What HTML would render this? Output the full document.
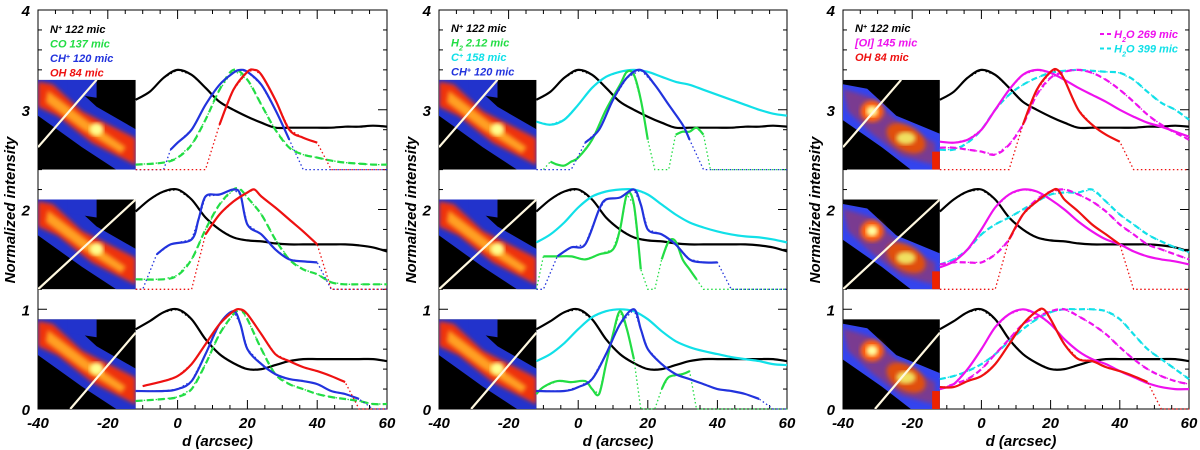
<!DOCTYPE html>
<html><head><meta charset="utf-8">
<style>
html,body{margin:0;padding:0;background:#fff;}
svg{display:block;font-family:"Liberation Sans",sans-serif;}
.tk{font-size:15px;font-weight:bold;font-style:italic;fill:#000;}
.lg{font-size:11px;font-weight:bold;font-style:italic;}
</style></head>
<body>
<svg id="fig" width="1200" height="450" viewBox="0 0 1200 450">
<defs>
<filter id="bl" x="-10%" y="-10%" width="120%" height="120%"><feGaussianBlur stdDeviation="2.2"/></filter>
</defs>
</svg>
<script>
// ---- data ----
const xTicks = [-40,-20,0,20,40,60];
const yTicks = [0,1,2,3,4];
const rowOffsets = [2.4,1.2,0];
// Panel 1
const p1r1_blackX=[-12,-8,-4,0,4,8,12,16,20,24,28,32,36,40,44,48,52,56,60];
const p1r1_blackY=[0.7,0.78,0.92,1.0,0.95,0.82,0.68,0.6,0.53,0.47,0.42,0.42,0.42,0.42,0.42,0.43,0.43,0.44,0.43];
const p1r1_greenX=[-12,-4,0,4,8,12,16,20,24,28,32,36,40,44,48,52,56,60];
const p1r1_greenY=[0.05,0.07,0.12,0.25,0.5,0.8,1.0,0.9,0.65,0.4,0.22,0.15,0.12,0.09,0.07,0.06,0.05,0.05];
const p1r1_blueX=[-12,-4,-2,0,4,8,12,16,18,20,24,28,32,36,60];
const p1r1_blueY=[0,0,0.2,0.27,0.4,0.65,0.85,0.97,1.0,0.98,0.85,0.6,0.3,0,0];
const p1r1_redX=[-12,8,12,16,20,22,24,28,32,36,40,44,60];
const p1r1_redY=[0,0,0.45,0.8,0.98,1.0,0.95,0.7,0.4,0.32,0.27,0,0];
const p1r2_blackX=[-12,-8,-4,0,4,8,12,16,20,24,28,32,36,40,44,48,52,56,60];
const p1r2_blackY=[0.78,0.9,0.98,1.0,0.9,0.72,0.6,0.52,0.49,0.48,0.46,0.45,0.45,0.45,0.45,0.45,0.44,0.42,0.38];
const p1r2_greenX=[-12,-4,0,4,8,12,16,18,20,24,28,32,36,40,44,48,52,60];
const p1r2_greenY=[0.1,0.1,0.14,0.3,0.6,0.85,1.0,1.0,0.92,0.75,0.5,0.3,0.2,0.15,0.07,0.05,0.05,0.05];
const p1r2_blueX=[-12,-10,-6,-2,4,6,8,12,16,18,20,24,28,32,36,40,44,60];
const p1r2_blueY=[0,0,0.35,0.45,0.5,0.7,0.93,0.95,1.0,0.95,0.65,0.55,0.4,0.3,0.28,0.27,0,0];
const p1r2_redX=[-12,4,8,12,16,20,22,24,28,32,36,40,44,60];
const p1r2_redY=[0,0,0.55,0.75,0.88,0.97,1.0,0.93,0.82,0.7,0.58,0.45,0,0];
const p1r3_blackX=[-12,-8,-4,0,4,8,12,16,20,24,28,32,36,40,44,48,52,56,60];
const p1r3_blackY=[0.8,0.88,0.97,1.0,0.9,0.7,0.55,0.46,0.4,0.4,0.44,0.48,0.5,0.5,0.5,0.5,0.5,0.5,0.48];
const p1r3_greenX=[-12,-4,0,4,8,12,16,18,20,24,28,32,36,40,44,48,52,56,60];
const p1r3_greenY=[0.08,0.1,0.12,0.2,0.45,0.75,0.95,1.0,0.9,0.6,0.35,0.25,0.2,0.15,0.12,0.1,0.08,0.05,0.05];
const p1r3_blueX=[-12,-4,0,4,8,12,16,18,20,24,28,32,36,40,44,48,52,56,60];
const p1r3_blueY=[0.18,0.18,0.2,0.28,0.55,0.85,0.98,0.85,0.6,0.45,0.35,0.3,0.28,0.25,0.18,0.15,0.1,0,0];
const p1r3_redX=[-10,-4,0,4,8,12,16,18,20,24,28,32,36,40,44,48,52,60];
const p1r3_redY=[0.23,0.28,0.33,0.45,0.65,0.85,0.98,1.0,0.95,0.75,0.55,0.48,0.42,0.38,0.33,0.27,0,0];
// Panel 2
const p2r1_cyanX=[-12,-8,-4,0,4,8,12,16,20,24,28,32,36,40,44,48,52,56,60];
const p2r1_cyanY=[0.48,0.45,0.5,0.65,0.82,0.93,0.98,1.0,0.98,0.93,0.88,0.85,0.8,0.75,0.7,0.65,0.6,0.56,0.54];
const p2r1_blueX=[-12,-2,2,6,10,14,18,22,26,30,32,36,60];
const p2r1_blueY=[0,0,0.27,0.4,0.7,0.92,1.0,0.85,0.65,0.45,0.3,0,0];
const p2r1_greenX=[-10,-8,-6,-4,-2,0,4,8,12,14,16,18,20,22,26,28,30,32,34,36,38,60];
const p2r1_greenY=[0,0.08,0.05,0.04,0.08,0.12,0.3,0.6,0.85,0.98,0.95,0.7,0.3,0,0,0.35,0.38,0.38,0.42,0.35,0,0];
const p2r2_cyanX=[-12,-8,-4,0,4,8,12,16,20,24,28,32,36,40,44,48,52,56,60];
const p2r2_cyanY=[0.47,0.55,0.67,0.82,0.93,0.98,1.0,1.0,0.95,0.85,0.75,0.67,0.62,0.58,0.55,0.53,0.52,0.5,0.47];
const p2r2_blueX=[-12,-10,-6,-2,2,6,8,12,16,18,20,24,28,32,36,40,44,60];
const p2r2_blueY=[0,0,0.33,0.42,0.45,0.8,0.9,0.92,1.0,0.85,0.6,0.55,0.45,0.3,0.27,0.27,0,0];
const p2r2_greenX=[-12,-10,-6,-2,2,6,10,12,14,16,18,20,22,24,26,28,30,32,34,36,60];
const p2r2_greenY=[0,0.33,0.33,0.33,0.3,0.35,0.4,0.6,0.95,0.85,0.2,0,0,0.3,0.48,0.48,0.3,0.2,0.1,0,0];
const p2r3_cyanX=[-12,-8,-4,0,4,8,12,16,20,24,28,32,36,40,44,48,52,56,60];
const p2r3_cyanY=[0.48,0.55,0.66,0.8,0.92,0.98,1.0,0.98,0.9,0.78,0.68,0.62,0.58,0.55,0.52,0.5,0.48,0.45,0.44];
const p2r3_blueX=p1r3_blueX;
const p2r3_blueY=[0.18,0.18,0.22,0.3,0.55,0.85,1.0,0.8,0.6,0.45,0.35,0.3,0.25,0.2,0.18,0.15,0.1,0,0];
const p2r3_greenX=[-12,-10,-6,-2,2,4,6,8,10,12,14,16,18,22,24,26,30,32,34,60];
const p2r3_greenY=[0.15,0.22,0.28,0.27,0.28,0.2,0.15,0.45,0.75,0.98,0.8,0.5,0,0,0.2,0.32,0.35,0.38,0,0];
// Panel 3
const p3X=[-12,-8,-4,0,4,8,12,16,20,24,28,32,36,40,44,48,52,56,60];
const p3r1_oiY=[0.28,0.27,0.3,0.4,0.6,0.8,0.95,1.0,0.97,0.9,0.82,0.75,0.68,0.6,0.53,0.47,0.43,0.38,0.33];
const p3r1_h269Y=[0.22,0.22,0.2,0.18,0.15,0.25,0.45,0.75,0.92,0.98,1.0,0.97,0.9,0.8,0.68,0.55,0.45,0.37,0.3];
const p3r1_h399Y=[0.2,0.2,0.27,0.4,0.6,0.75,0.85,0.92,0.97,0.99,1.0,0.99,0.98,0.97,0.9,0.78,0.67,0.6,0.5];
const p3r1_redX=[-12,8,12,16,20,22,24,28,32,36,40,44,60];
const p3r1_redY=[0,0,0.45,0.8,0.98,1.0,0.9,0.6,0.45,0.35,0.28,0,0];
const p3r2_oiY=[0.22,0.28,0.4,0.6,0.82,0.95,1.0,0.98,0.9,0.8,0.68,0.58,0.5,0.45,0.38,0.33,0.3,0.28,0.25];
const p3r2_h269Y=[0.25,0.27,0.27,0.27,0.35,0.5,0.75,0.9,0.98,1.0,0.95,0.88,0.78,0.65,0.55,0.45,0.4,0.35,0.3];
const p3r2_h399Y=[0.25,0.3,0.4,0.55,0.65,0.72,0.8,0.88,0.95,0.97,0.97,1.0,0.88,0.75,0.65,0.55,0.48,0.42,0.37];
const p3r2_redX=[-12,4,8,12,16,20,22,24,28,32,36,40,44,60];
const p3r2_redY=[0,0,0.5,0.75,0.88,0.98,1.0,0.9,0.78,0.65,0.55,0.45,0,0];
const p3r3_oiY=[0.2,0.25,0.4,0.6,0.82,0.95,1.0,0.95,0.85,0.7,0.58,0.5,0.45,0.38,0.32,0.26,0.22,0.2,0.2];
const p3r3_h269Y=[0.2,0.25,0.3,0.4,0.55,0.7,0.85,0.92,0.98,1.0,0.93,0.85,0.75,0.62,0.5,0.4,0.33,0.28,0.25];
const p3r3_h399Y=[0.3,0.33,0.38,0.45,0.55,0.68,0.8,0.9,0.97,1.0,1.0,1.0,0.98,0.9,0.75,0.6,0.5,0.4,0.3];
const p3r3_redX=[-12,-8,-4,0,4,8,12,16,18,20,24,28,32,36,40,44,48,52,60];
const p3r3_redY=[0.22,0.22,0.28,0.33,0.45,0.65,0.85,0.98,1.0,0.9,0.65,0.5,0.48,0.42,0.38,0.33,0.27,0,0];

const BLACK='#000', GREEN='#22dd44', BLUE='#2233dd', RED='#ee1111', CYAN='#11e0e8', MAG='#ee11ee';
const NS='http://www.w3.org/2000/svg';
const svg=document.getElementById('fig');
function mk(tag,attrs,parent){const e=document.createElementNS(NS,tag);for(const k in attrs)e.setAttribute(k,attrs[k]);(parent||svg).appendChild(e);return e;}

const panels=[{L:38,R:387},{L:439,R:787},{L:843,R:1189}];
const T=10,B=409;
function sx(p,v){return p.L+(v+40)/100*(p.R-p.L);}
function sy(v){return B-v/4*(B-T);}

function smooth(pts){
  if(pts.length<2)return '';
  let d='M'+pts[0][0].toFixed(1)+','+pts[0][1].toFixed(1);
  for(let i=0;i<pts.length-1;i++){
    const p0=pts[i-1]||pts[i],p1=pts[i],p2=pts[i+1],p3=pts[i+2]||p2;
    const c1=[p1[0]+(p2[0]-p0[0])/6,p1[1]+(p2[1]-p0[1])/6];
    const c2=[p2[0]-(p3[0]-p1[0])/6,p2[1]-(p3[1]-p1[1])/6];
    d+='C'+c1[0].toFixed(1)+','+c1[1].toFixed(1)+' '+c2[0].toFixed(1)+','+c2[1].toFixed(1)+' '+p2[0].toFixed(1)+','+p2[1].toFixed(1);
  }
  return d;
}
function series(p,xs,ys,off,color,dash,name){
  const g=mk('g',{});
  
  
  const xmin=-12;
  const all=xs.map((x,i)=>[sx(p,Math.max(x,xmin)),sy(ys[i]+off)]);
  const dl=mk('path',{d:'M'+all.map(q=>q[0].toFixed(1)+','+q[1].toFixed(1)).join('L'),fill:'none',stroke:color,'stroke-width':1.3,'stroke-dasharray':'1.5,2.5'},g);
  
  
  let run=[];
  const flush=()=>{if(run.length>1){const s=mk('path',{d:smooth(run),fill:'none',stroke:color,'stroke-width':2.2,'stroke-dasharray':dash||'none','stroke-linejoin':'round'},g);
    
    }
    run=[];};
  for(let i=0;i<xs.length;i++){ if(ys[i]>0.001)run.push(all[i]); else flush(); }
  flush();
}

function inset(p,off,kind,idx){
  const x0=p.L, w=(p.R-p.L)*0.28, y1=sy(off), y0=sy(off+0.9), h=y1-y0;
  const g=mk('g',{});
  
  
  const cid='clip'+idx;
  const cp=mk('clipPath',{id:cid},g);
  mk('rect',{x:x0,y:y0,width:w,height:h},cp);
  const gi=mk('g',{'clip-path':'url(#'+cid+')'},g);
  mk('rect',{x:x0,y:y0,width:w,height:h,fill:'#000'},gi);
  const P=(a,b)=>(x0+a*w).toFixed(1)+','+(y0+b*h).toFixed(1);
  if(kind===3){
    mk('polygon',{points:[P(0,0.05),P(0.25,0.1),P(0.55,0.4),P(1,0.6),P(1,1),P(0.7,1),P(0.4,0.75),P(0,0.45)].join(' '),fill:'#3344ee'},gi);
    mk('polygon',{points:[P(0,0.1),P(0.3,0.2),P(0.6,0.5),P(0.95,0.7),P(0.95,0.95),P(0.6,0.85),P(0.3,0.6),P(0.05,0.35)].join(' '),fill:'#7a3a90',filter:'url(#bl)'},gi);
    mk('ellipse',{cx:x0+0.3*w,cy:y0+0.35*h,rx:0.12*w,ry:0.12*h,fill:'#ff6010',filter:'url(#bl)'},gi);
    mk('ellipse',{cx:x0+0.3*w,cy:y0+0.35*h,rx:0.06*w,ry:0.06*h,fill:'#ffffa0',filter:'url(#bl)'},gi);
    mk('ellipse',{cx:x0+0.65*w,cy:y0+0.65*h,rx:0.22*w,ry:0.14*h,fill:'#e05010',filter:'url(#bl)',transform:'rotate(30 '+(x0+0.65*w)+' '+(y0+0.65*h)+')'},gi);
    mk('ellipse',{cx:x0+0.65*w,cy:y0+0.65*h,rx:0.1*w,ry:0.07*h,fill:'#f0e060',filter:'url(#bl)'},gi);
    mk('rect',{x:x0+0.92*w,y:y0+0.8*h,width:0.08*w,height:0.2*h,fill:'#ee2200'},gi);
  } else {
    mk('polygon',{points:[P(0,0),P(0.3,0),P(0.6,0.3),P(1,0.55),P(1,1),P(0.8,1),P(0.45,0.75),P(0,0.4)].join(' '),fill:'#2233cc'},gi);
    mk('polygon',{points:[P(0.3,0),P(0.6,0),P(0.6,0.2),P(0.3,0.15)].join(' '),fill:'#2233cc'},gi);
    mk('polygon',{points:[P(0,0.02),P(0.15,0.05),P(0.45,0.35),P(1,0.65),P(1,0.95),P(0.55,0.7),P(0.2,0.4),P(0,0.3)].join(' '),fill:'#ee3010',filter:'url(#bl)'},gi);
    mk('polygon',{points:[P(0.1,0.12),P(0.5,0.45),P(0.9,0.75),P(0.85,0.82),P(0.45,0.55),P(0.08,0.25)].join(' '),fill:'#ffa020',filter:'url(#bl)'},gi);
    mk('ellipse',{cx:x0+0.6*w,cy:y0+0.55*h,rx:0.07*w,ry:0.07*h,fill:'#ffff90',filter:'url(#bl)'},gi);
  }
  const lines=[[0,0.75,0.6,0],[0,1,1,0],[0.33,1,1,0.15]];
  const l=lines[idx%3];
  const wl=mk('line',{x1:x0+l[0]*w,y1:y0+l[1]*h,x2:x0+l[2]*w,y2:y0+l[3]*h,stroke:'#fff8e0','stroke-width':2.2},gi);
  
  
}

function axes(p,pi){
  const g=mk('g',{});
  
  
  mk('rect',{x:p.L,y:T,width:p.R-p.L,height:B-T,fill:'none',stroke:'#000','stroke-width':1},g);
  for(let v=0;v<=4.001;v+=0.2){
    const major=Math.abs(v-Math.round(v))<0.01, len=major?9:4, y=sy(v);
    mk('line',{x1:p.L,y1:y,x2:p.L+len,y2:y,stroke:'#000'},g);
    mk('line',{x1:p.R,y1:y,x2:p.R-len,y2:y,stroke:'#000'},g);
  }
  for(let v=-40;v<=60;v+=5){
    const major=v%20===0, len=major?9:4, x=sx(p,v);
    mk('line',{x1:x,y1:B,x2:x,y2:B-len,stroke:'#000'},g);
    mk('line',{x1:x,y1:T,x2:x,y2:T+len,stroke:'#000'},g);
  }
  xTicks.forEach(v=>{const t=mk('text',{x:sx(p,v),y:428,'text-anchor':'middle',class:'tk'},g);t.textContent=v;
    
    });
  yTicks.forEach(v=>{const t=mk('text',{x:p.L-8,y:sy(v)+6,'text-anchor':'end',class:'tk'},g);t.textContent=v;
    
    });
  const xt=mk('text',{x:(p.L+p.R)/2+5,y:446,'text-anchor':'middle',class:'tk'},g);xt.textContent='d (arcsec)';
  
  
  const yt=mk('text',{x:0,y:0,'text-anchor':'middle',class:'tk',transform:'translate('+(p.L-23)+',210) rotate(-90)'},g);yt.textContent='Normalized intensity';
  
  
}

function legend(x,y,items,anchor){
  items.forEach((it,i)=>{
    const t=mk('text',{x:x,y:y+i*14.5,class:'lg',fill:it[1],'text-anchor':anchor||'start'});
    t.innerHTML=it[0];
    
    
  });
}

const P1=panels[0],P2=panels[1],P3=panels[2];
panels.forEach((p,i)=>axes(p,i));
[0,1,2].forEach(r=>{inset(P1,rowOffsets[r],1,r);inset(P2,rowOffsets[r],2,3+r);inset(P3,rowOffsets[r],3,6+r);});

series(P1,p1r1_blackX,p1r1_blackY,2.4,BLACK,null,'p1-top-nplus');
series(P1,p1r1_greenX,p1r1_greenY,2.4,GREEN,'7,4','p1-top-co');
series(P1,p1r1_blueX,p1r1_blueY,2.4,BLUE,null,'p1-top-chplus');
series(P1,p1r1_redX,p1r1_redY,2.4,RED,null,'p1-top-oh');
series(P1,p1r2_blackX,p1r2_blackY,1.2,BLACK,null,'p1-mid-nplus');
series(P1,p1r2_greenX,p1r2_greenY,1.2,GREEN,'7,4','p1-mid-co');
series(P1,p1r2_blueX,p1r2_blueY,1.2,BLUE,null,'p1-mid-chplus');
series(P1,p1r2_redX,p1r2_redY,1.2,RED,null,'p1-mid-oh');
series(P1,p1r3_blackX,p1r3_blackY,0,BLACK,null,'p1-bot-nplus');
series(P1,p1r3_greenX,p1r3_greenY,0,GREEN,'7,4','p1-bot-co');
series(P1,p1r3_blueX,p1r3_blueY,0,BLUE,null,'p1-bot-chplus');
series(P1,p1r3_redX,p1r3_redY,0,RED,null,'p1-bot-oh');
series(P2,p1r1_blackX,p1r1_blackY,2.4,BLACK,null,'p2-top-nplus');
series(P2,p2r1_cyanX,p2r1_cyanY,2.4,CYAN,null,'p2-top-cplus');
series(P2,p2r1_greenX,p2r1_greenY,2.4,GREEN,null,'p2-top-h2');
series(P2,p2r1_blueX,p2r1_blueY,2.4,BLUE,null,'p2-top-chplus');
series(P2,p1r2_blackX,p1r2_blackY,1.2,BLACK,null,'p2-mid-nplus');
series(P2,p2r2_cyanX,p2r2_cyanY,1.2,CYAN,null,'p2-mid-cplus');
series(P2,p2r2_greenX,p2r2_greenY,1.2,GREEN,null,'p2-mid-h2');
series(P2,p2r2_blueX,p2r2_blueY,1.2,BLUE,null,'p2-mid-chplus');
series(P2,p1r3_blackX,p1r3_blackY,0,BLACK,null,'p2-bot-nplus');
series(P2,p2r3_cyanX,p2r3_cyanY,0,CYAN,null,'p2-bot-cplus');
series(P2,p2r3_greenX,p2r3_greenY,0,GREEN,null,'p2-bot-h2');
series(P2,p2r3_blueX,p2r3_blueY,0,BLUE,null,'p2-bot-chplus');
series(P3,p1r1_blackX,p1r1_blackY,2.4,BLACK,null,'p3-top-nplus');
series(P3,p3X,p3r1_h399Y,2.4,CYAN,'6,4','p3-top-h2o-399');
series(P3,p3X,p3r1_h269Y,2.4,MAG,'6,4','p3-top-h2o-269');
series(P3,p3X,p3r1_oiY,2.4,MAG,null,'p3-top-oi');
series(P3,p3r1_redX,p3r1_redY,2.4,RED,null,'p3-top-oh');
series(P3,p1r2_blackX,p1r2_blackY,1.2,BLACK,null,'p3-mid-nplus');
series(P3,p3X,p3r2_h399Y,1.2,CYAN,'6,4','p3-mid-h2o-399');
series(P3,p3X,p3r2_h269Y,1.2,MAG,'6,4','p3-mid-h2o-269');
series(P3,p3X,p3r2_oiY,1.2,MAG,null,'p3-mid-oi');
series(P3,p3r2_redX,p3r2_redY,1.2,RED,null,'p3-mid-oh');
series(P3,p1r3_blackX,p1r3_blackY,0,BLACK,null,'p3-bot-nplus');
series(P3,p3X,p3r3_h399Y,0,CYAN,'6,4','p3-bot-h2o-399');
series(P3,p3X,p3r3_h269Y,0,MAG,'6,4','p3-bot-h2o-269');
series(P3,p3X,p3r3_oiY,0,MAG,null,'p3-bot-oi');
series(P3,p3r3_redX,p3r3_redY,0,RED,null,'p3-bot-oh');

legend(50,33,[['N<tspan baseline-shift="super" font-size="7">+</tspan> 122 mic',BLACK],['CO 137 mic',GREEN],['CH<tspan baseline-shift="super" font-size="7">+</tspan> 120 mic',BLUE],['OH 84 mic',RED]]);
legend(451,32,[['N<tspan baseline-shift="super" font-size="7">+</tspan> 122 mic',BLACK],['H<tspan baseline-shift="sub" font-size="7">2</tspan> 2.12 mic',GREEN],['C<tspan baseline-shift="super" font-size="7">+</tspan> 158 mic',CYAN],['CH<tspan baseline-shift="super" font-size="7">+</tspan> 120 mic',BLUE]]);
legend(855,32,[['N<tspan baseline-shift="super" font-size="7">+</tspan> 122 mic',BLACK],['[OI] 145 mic',MAG],['OH 84 mic',RED]]);
legend(1178,38,[['H<tspan baseline-shift="sub" font-size="7">2</tspan>O 269 mic',MAG],['H<tspan baseline-shift="sub" font-size="7">2</tspan>O 399 mic',CYAN]],'end');
const ls1=mk('line',{x1:1100,y1:34,x2:1114,y2:34,stroke:MAG,'stroke-width':2,'stroke-dasharray':'4,3'});


const ls2=mk('line',{x1:1100,y1:48.5,x2:1114,y2:48.5,stroke:CYAN,'stroke-width':2,'stroke-dasharray':'4,3'});


</script>
</body></html>
